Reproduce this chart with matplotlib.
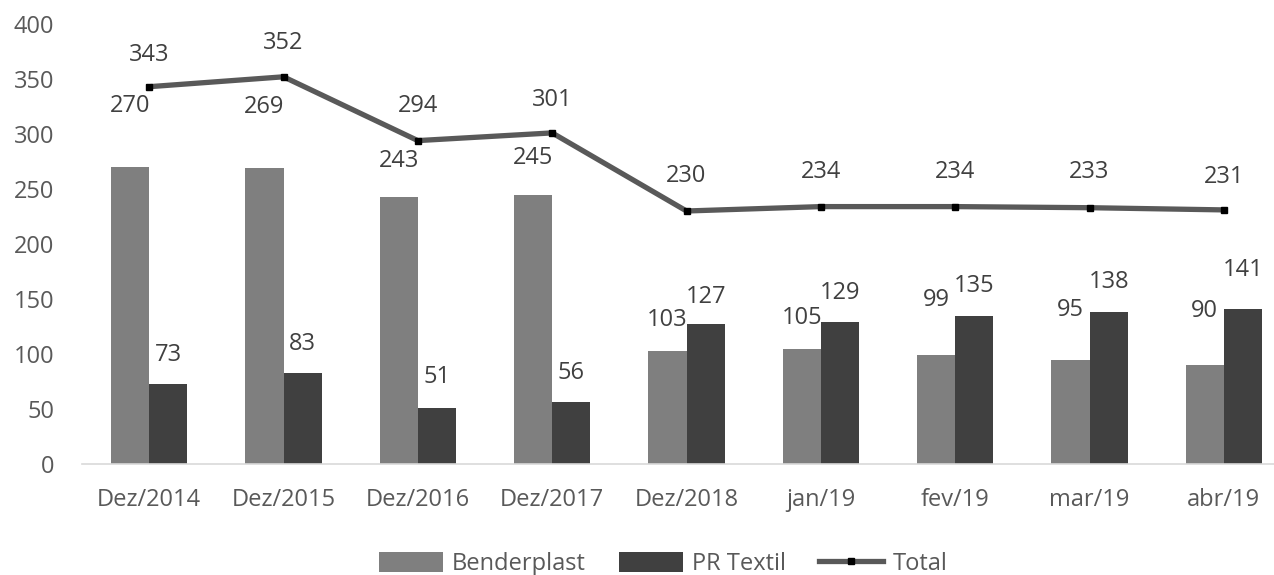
import matplotlib.pyplot as plt
import numpy as np

categories = ["Dez/2014", "Dez/2015", "Dez/2016", "Dez/2017", "Dez/2018",
              "jan/19", "fev/19", "mar/19", "abr/19"]
benderplast = [270, 269, 243, 245, 103, 105, 99, 95, 90]
pr_textil = [73, 83, 51, 56, 127, 129, 135, 138, 141]
total = [343, 352, 294, 301, 230, 234, 234, 233, 231]

# label offsets above the marks, in points (as placed in the original)
bend_off = [44, 44, 26, 26, 22, 22, 40, 36, 39]
pr_off = [21, 21, 22, 21, 20, 21, 21, 22, 28]
tot_off = [23, 24, 25, 24, 25, 25, 25, 26, 24]

plt.rcParams['font.family'] = ['Open Sans', 'DejaVu Sans']

fig = plt.figure(figsize=(12.74, 5.75), dpi=100)
ax = fig.add_axes([82 / 1274, 111 / 575, 1209 / 1274, 440 / 575])

x = np.arange(len(categories))
w = 0.285
txt = "#404040"
fs = 17

b1 = ax.bar(x - w / 2, benderplast, w, color="#7f7f7f", label="Benderplast")
b2 = ax.bar(x + w / 2, pr_textil, w, color="#404040", label="PR Textil")
ln, = ax.plot(x, total, color="#595959", lw=3.8, marker="s", ms=5,
              mfc="black", mec="black", label="Total")

for xi, v, o in zip(x - w / 2, benderplast, bend_off):
    ax.annotate(str(v), (xi, v), xytext=(0, o), textcoords="offset points",
                ha="center", va="center", fontsize=fs, color=txt)
for xi, v, o in zip(x + w / 2, pr_textil, pr_off):
    ax.annotate(str(v), (xi, v), xytext=(0, o), textcoords="offset points",
                ha="center", va="center", fontsize=fs, color=txt)
for xi, v, o in zip(x, total, tot_off):
    ax.annotate(str(v), (xi, v), xytext=(0, o), textcoords="offset points",
                ha="center", va="center", fontsize=fs, color=txt)

ax.set_xlim(-0.5, len(categories) - 0.5)
ax.set_ylim(0, 400)
ax.set_yticks(range(0, 401, 50))
ax.set_xticks(x)
ax.set_xticklabels(categories)
ax.tick_params(axis="both", length=0, labelsize=fs, labelcolor="#595959")
ax.tick_params(axis="y", pad=20)
ax.tick_params(axis="x", pad=17)

for s in ["top", "right", "left"]:
    ax.spines[s].set_visible(False)
ax.spines["bottom"].set_color("#d9d9d9")
ax.spines["bottom"].set_linewidth(1.2)

fig.legend(handles=[b1, b2, ln], loc="center", bbox_to_anchor=(663 / 1274, 11 / 575),
           ncol=3, frameon=False, fontsize=fs, labelcolor="#595959",
           handlelength=2.7, handleheight=0.9, handletextpad=0.4,
           columnspacing=1.4)

fig.savefig("out.png", dpi=100)
